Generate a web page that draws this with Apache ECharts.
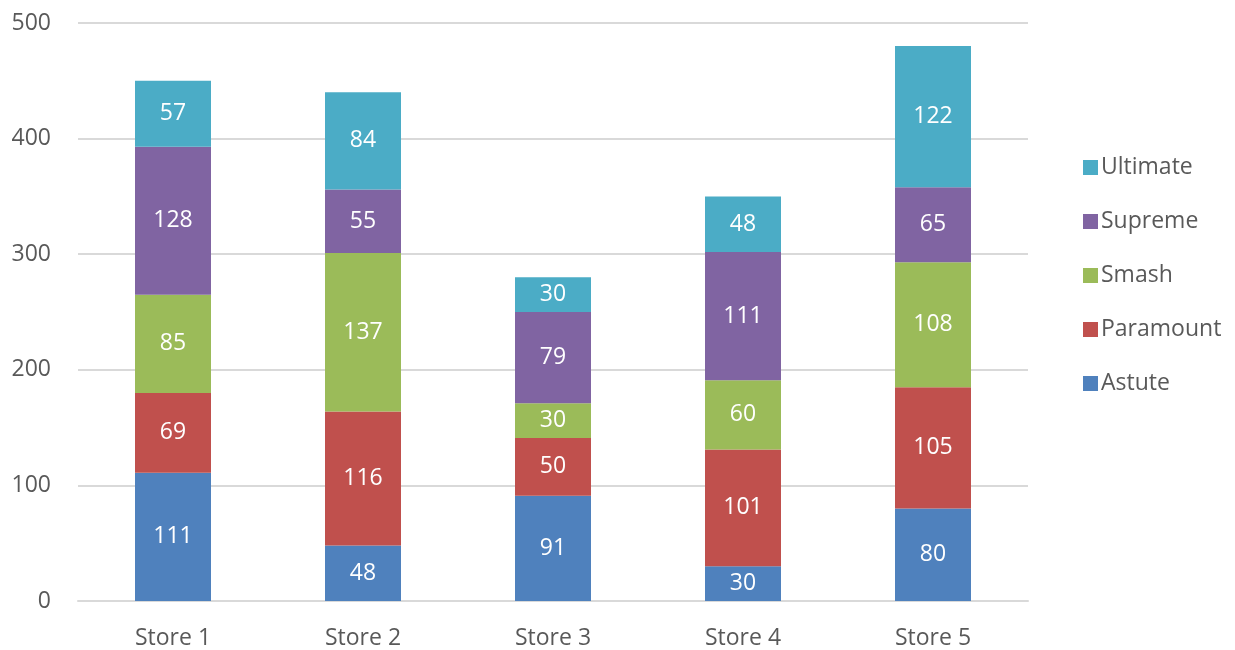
<!DOCTYPE html>
<html>
<head>
<meta charset="utf-8">
<script src="https://cdn.jsdelivr.net/npm/echarts@6/dist/echarts.min.js"></script>
<style>
html,body{margin:0;padding:0;background:#fff;}
#chart{width:1235px;height:650px;}
</style>
</head>
<body>
<div id="chart"></div>
<script>
var categories = ['Store 1', 'Store 2', 'Store 3', 'Store 4', 'Store 5'];
var astute    = [111, 48, 91, 30, 80];
var paramount = [69, 116, 50, 101, 105];
var smash     = [85, 137, 30, 60, 108];
var supreme   = [128, 55, 79, 111, 65];
var ultimate  = [57, 84, 30, 48, 122];
var seriesNames = ['Astute', 'Paramount', 'Smash', 'Supreme', 'Ultimate'];
var seriesData = [astute, paramount, smash, supreme, ultimate];
var colors = ['#4F81BD', '#C0504D', '#9BBB59', '#8064A2', '#4BACC6'];

var FONT = '"Open Sans", sans-serif';
var FS = 23;
var chart = echarts.init(document.getElementById('chart'));
chart.setOption({
  animation: false,
  color: colors,
  textStyle: { fontFamily: FONT },
  grid: { left: 78, right: 207, top: 23, bottom: 49, containLabel: false },
  legend: {
    orient: 'vertical',
    left: 1078,
    top: 151,
    itemWidth: 15,
    itemHeight: 15,
    itemGap: 31,
    icon: 'rect',
    data: ['Ultimate', 'Supreme', 'Smash', 'Paramount', 'Astute'],
    textStyle: { fontFamily: FONT, fontSize: FS, color: '#595959', padding: [0, 0, 0, -2] }
  },
  xAxis: {
    type: 'category',
    data: categories,
    axisLine: { lineStyle: { color: '#d9d9d9', width: 2 } },
    axisTick: { show: false },
    axisLabel: { fontFamily: FONT, fontSize: FS, color: '#595959', margin: 26 }
  },
  yAxis: {
    type: 'value',
    min: 0, max: 500, interval: 100,
    axisLine: { show: false },
    axisTick: { show: false },
    splitLine: { lineStyle: { color: '#d9d9d9', width: 2 } },
    axisLabel: { fontFamily: FONT, fontSize: FS, color: '#595959', margin: 27 }
  },
  series: seriesNames.map(function (n, i) {
    return {
      name: n,
      type: 'bar',
      stack: 'total',
      barWidth: 76,
      data: seriesData[i],
      label: { show: true, position: 'inside', color: '#fff', fontFamily: FONT, fontSize: FS }
    };
  })
});
</script>
</body>
</html>
